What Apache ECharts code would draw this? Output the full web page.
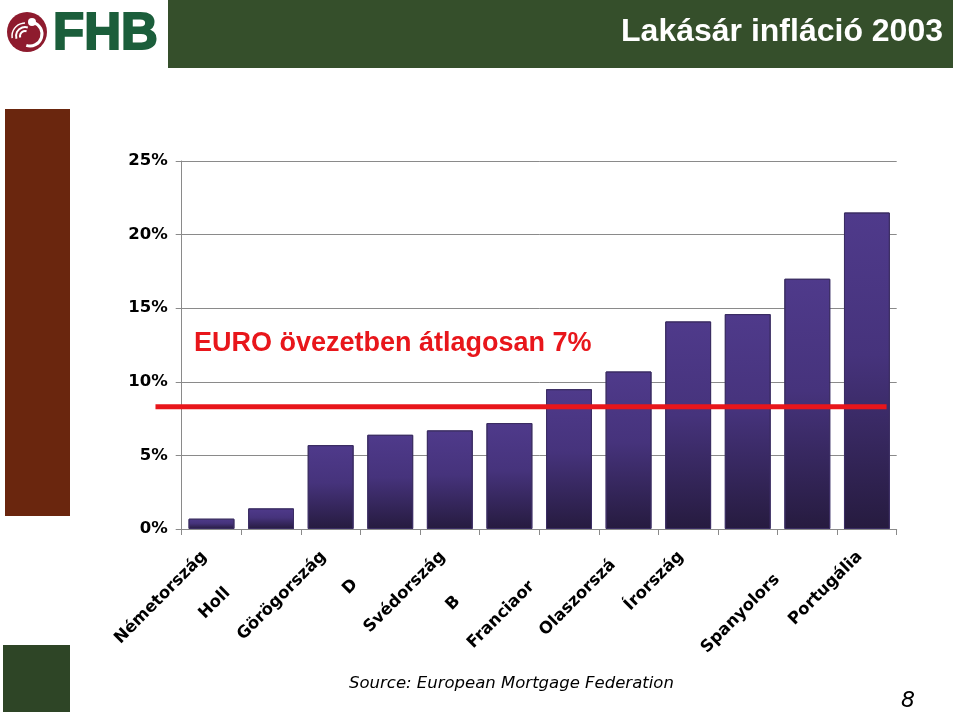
<!DOCTYPE html>
<html>
<head>
<meta charset="utf-8">
<script src="https://cdn.jsdelivr.net/npm/echarts@6/dist/echarts.min.js"></script>
<style>
  html, body { margin: 0; padding: 0; background: #ffffff; }
  #chart { width: 960px; height: 715px; }
</style>
</head>
<body>
<div id="chart"></div>
<script>
// ---- data ----
const categories = ['Németország', 'Hollandia', 'Görögország', 'Dánia', 'Svédország', 'Belgium',
                    'Franciaország', 'Olaszország', 'Írország', '', 'Spanyolország', 'Portugália'];
// visible (clipped) label text as it appears in the reference
const shownLabels = ['Németország', 'Holl', 'Görögország', 'D', 'Svédország', 'B',
                     'Franciaor', 'Olaszorszá', 'Írország', '', 'Spanyolors', 'Portugália'];
const values = [0.7, 1.4, 5.7, 6.4, 6.7, 7.2, 9.5, 10.7, 14.1, 14.6, 17.0, 21.5];
const euroAverage = 8.3;
const yTicks = [0, 5, 10, 15, 20, 25];

const titleText = 'Lakásár infláció 2003';
const noteText = 'EURO övezetben átlagosan 7%';
const sourceText = 'Source: European Mortgage Federation';
const pageNumber = '8';

// ---- label clipping (hidden tail keeps position of full label) ----
const labelFont = 'bold 16.5px "DejaVu Sans"';
const mctx = document.createElement('canvas').getContext('2d');
mctx.font = labelFont;
const basePad = 10;
const tailPad = categories.map((c, i) => basePad + Math.max(0, mctx.measureText(c).width - mctx.measureText(shownLabels[i]).width));
const rich = {};
categories.forEach((c, i) => {
  rich['t' + i] = {
    fontFamily: 'DejaVu Sans', fontWeight: 'bold', fontSize: 16.5, color: '#000',
    padding: [0, tailPad[i], 0, 0]
  };
});

const chart = echarts.init(document.getElementById('chart'), null, { renderer: 'canvas' });

const barGradient = new echarts.graphic.LinearGradient(0, 0, 0, 1, [
  { offset: 0, color: '#4F3A8B' },
  { offset: 0.45, color: '#46337C' },
  { offset: 1, color: '#261B3F' }
]);

const frameGraphics = [
  // header bar
  { type: 'rect', shape: { x: 168, y: 0, width: 785, height: 68 }, style: { fill: '#354F2B' }, z: 0 },
  { type: 'text', right: 17, top: 16, style: { text: titleText, fill: '#ffffff', font: 'bold 32px "Liberation Sans", Arial, sans-serif' }, z: 1 },
  // logo
  { type: 'circle', shape: { cx: 27, cy: 32, r: 20 }, style: { fill: '#8E1B2E' }, z: 1 },
  { type: 'arc', shape: { cx: 25, cy: 36, r: 9, startAngle: Math.PI * 0.9, endAngle: Math.PI * 1.6 }, style: { stroke: '#fff', lineWidth: 2, fill: null }, z: 2 },
  { type: 'arc', shape: { cx: 25, cy: 36, r: 5, startAngle: Math.PI * 0.9, endAngle: Math.PI * 1.6 }, style: { stroke: '#fff', lineWidth: 2, fill: null }, z: 2 },
  { type: 'arc', shape: { cx: 25, cy: 36, r: 13, startAngle: Math.PI * 0.95, endAngle: Math.PI * 1.5 }, style: { stroke: '#fff', lineWidth: 1.5, fill: null }, z: 2 },
  { type: 'circle', shape: { cx: 32, cy: 22, r: 4 }, style: { fill: '#fff' }, z: 2 },
  { type: 'arc', shape: { cx: 30, cy: 34, r: 12, startAngle: -Math.PI * 0.4, endAngle: Math.PI * 0.6 }, style: { stroke: '#fff', lineWidth: 3, fill: null }, z: 2 },
  { type: 'text', left: 52, top: 8, style: { text: 'FHB', fill: '#1B5E3B', font: 'bold 51px "Liberation Sans", Arial, sans-serif', stroke: '#1B5E3B', lineWidth: 2 }, z: 1 },
  // side blocks
  { type: 'rect', shape: { x: 5, y: 109, width: 65, height: 407 }, style: { fill: '#6A260E' }, z: 0 },
  { type: 'rect', shape: { x: 3, y: 645, width: 67, height: 67 }, style: { fill: '#2E4526' }, z: 0 },
  // annotation
  { type: 'text', left: 194, top: 330, style: { text: noteText, fill: '#E8161B', font: 'bold 27px "Liberation Sans", Arial, sans-serif' }, z: 6 },
  // source
  { type: 'text', left: 349, top: 675, style: { text: sourceText, fill: '#000', font: 'italic 16.5px "DejaVu Sans", sans-serif' }, z: 6 },
  { type: 'text', left: 901, top: 690, style: { text: pageNumber, fill: '#000', font: 'italic 22px "DejaVu Sans", sans-serif' }, z: 6 }
];

const option = {
  backgroundColor: '#ffffff',
  animation: false,
  grid: { left: 181.7, right: 63.3, top: 161, bottom: 186, outerBoundsMode: 'none', containLabel: false },
  xAxis: [{
    type: 'category',
    data: categories,
    boundaryGap: true,
    axisLine: { lineStyle: { color: '#8a8a8a', width: 1 } },
    axisTick: { show: true, alignWithLabel: false, length: 6, lineStyle: { color: '#8a8a8a' } },
    axisLabel: {
      interval: 0,
      rotate: 45,
      margin: 18,
      hideOverlap: false,
      formatter: function (v, i) { return shownLabels[i] ? '{t' + i + '|' + shownLabels[i] + '}' : ''; },
      rich: rich
    }
  }, {
    type: 'value', min: -0.5, max: 11.5, show: false
  }],
  yAxis: {
    type: 'value',
    min: yTicks[0], max: yTicks[yTicks.length - 1], interval: yTicks[1] - yTicks[0],
    axisLine: { show: true, onZero: false, lineStyle: { color: '#8a8a8a', width: 1 } },
    axisTick: { show: true, length: 6, lineStyle: { color: '#8a8a8a' } },
    splitLine: { show: true, lineStyle: { color: '#8a8a8a', width: 1 } },
    axisLabel: {
      margin: 14,
      formatter: '{value}%',
      fontFamily: 'DejaVu Sans', fontWeight: 'bold', fontSize: 16.5, color: '#000'
    }
  },
  series: [{
    type: 'bar',
    data: values,
    barWidth: '77%',
    itemStyle: { color: barGradient, borderColor: '#3b2d63', borderWidth: 1 },
    z: 2
  }],
  graphic: frameGraphics
};
chart.setOption(option);

// average line: endpoints in category units on the hidden value axis, converted through the chart's scales
const avgFrom = chart.convertToPixel({ xAxisIndex: 1, yAxisIndex: 0 }, [-0.94, euroAverage]);
const avgTo = chart.convertToPixel({ xAxisIndex: 1, yAxisIndex: 0 }, [11.33, euroAverage]);
chart.setOption({
  graphic: frameGraphics.concat([{
    type: 'line',
    shape: { x1: avgFrom[0], y1: avgFrom[1], x2: avgTo[0], y2: avgTo[1] },
    style: { stroke: '#E8161B', lineWidth: 5 },
    z: 10
  }])
});
</script>
</body>
</html>
